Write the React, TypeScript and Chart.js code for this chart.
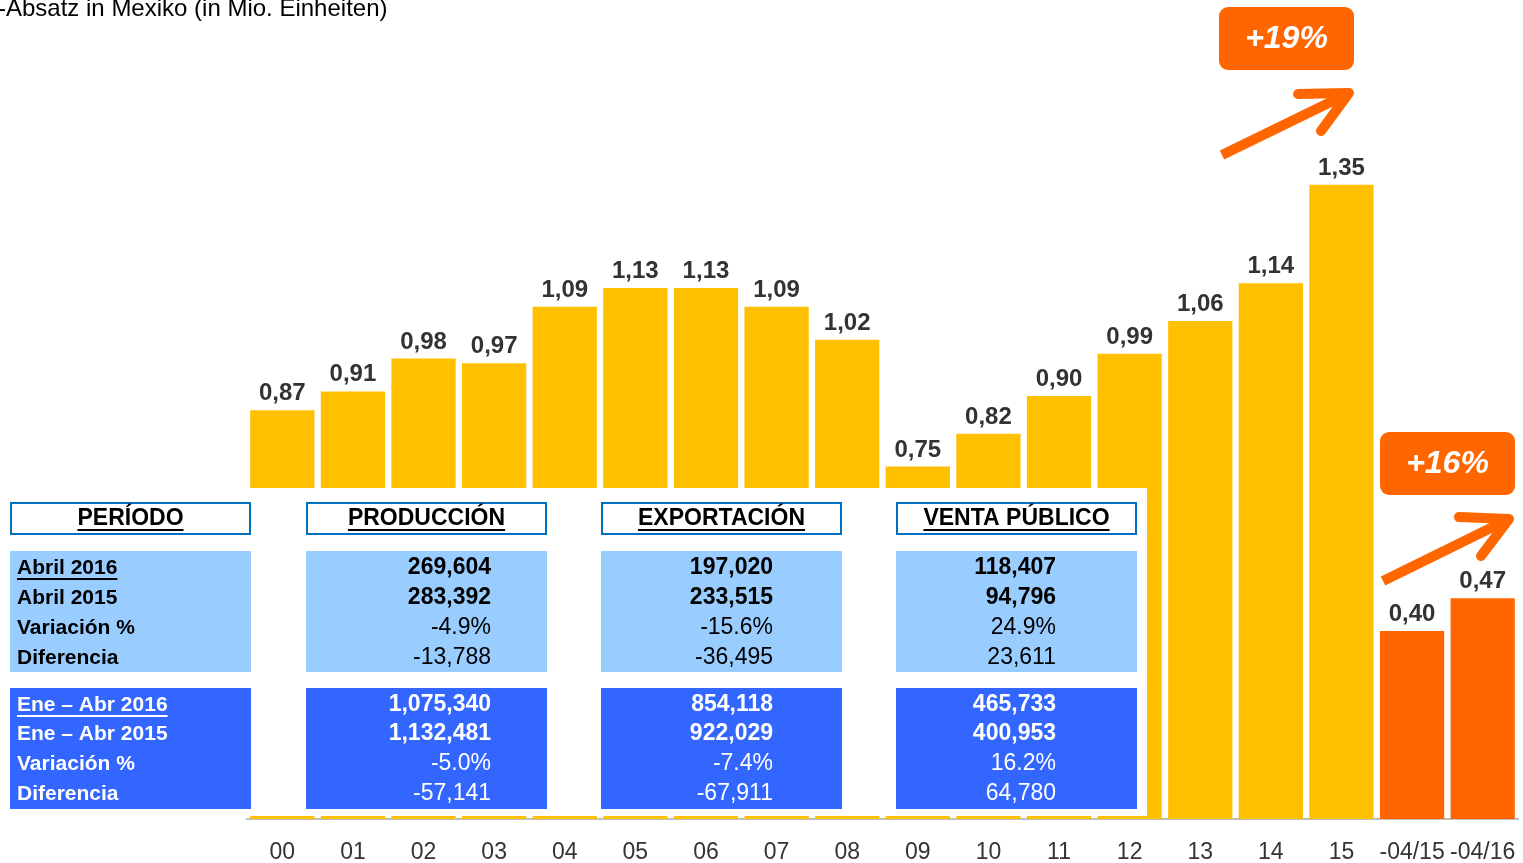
import React, { useEffect, useRef } from "react";
import { Chart, registerables } from "chart.js";

Chart.register(...registerables);

const categories = ["00", "01", "02", "03", "04", "05", "06", "07", "08", "09", "10", "11", "12", "13", "14", "15", "-04/15", "-04/16"];
const values = [0.87, 0.91, 0.98, 0.97, 1.09, 1.13, 1.13, 1.09, 1.02, 0.75, 0.82, 0.9, 0.99, 1.06, 1.14, 1.35, 0.4, 0.47];
const ytdFlags = [false, false, false, false, false, false, false, false, false, false, false, false, false, false, false, false, true, true];

const titleText = "-Absatz in Mexiko (in Mio. Einheiten)";
const badgeYear = "+19%";
const badgeYtd = "+16%";

const tableHeaders = ["PERÍODO", "PRODUCCIÓN", "EXPORTACIÓN", "VENTA PÚBLICO"];
const monthLabels = ["Abril 2016", "Abril 2015", "Variación %", "Diferencia"];
const ytdLabels = ["Ene – Abr 2016", "Ene – Abr 2015", "Variación %", "Diferencia"];
const produccionMonth = ["269,604", "283,392", "-4.9%", "-13,788"];
const exportacionMonth = ["197,020", "233,515", "-15.6%", "-36,495"];
const ventaMonth = ["118,407", "94,796", "24.9%", "23,611"];
const produccionYtd = ["1,075,340", "1,132,481", "-5.0%", "-57,141"];
const exportacionYtd = ["854,118", "922,029", "-7.4%", "-67,911"];
const ventaYtd = ["465,733", "400,953", "16.2%", "64,780"];

const YELLOW = "#FFC000";
const ORANGE = "#FF6600";
const LIGHT_BLUE = "#99CCFF";
const DARK_BLUE = "#3366FF";
const FONT = "'Liberation Sans', Arial, sans-serif";

function drawArrow(ctx: CanvasRenderingContext2D, tail: number[], tip: number[], h1: number[], h2: number[]) {
  ctx.save();
  ctx.strokeStyle = ORANGE;
  ctx.lineWidth = 10;
  ctx.lineCap = "butt";
  ctx.beginPath();
  ctx.moveTo(tail[0], tail[1]);
  ctx.lineTo(tip[0] - 6, tip[1] + 3);
  ctx.stroke();
  ctx.lineCap = "round";
  ctx.lineJoin = "round";
  ctx.beginPath();
  ctx.moveTo(h1[0], h1[1]);
  ctx.lineTo(tip[0], tip[1]);
  ctx.lineTo(h2[0], h2[1]);
  ctx.stroke();
  ctx.restore();
}

function drawBadge(ctx: CanvasRenderingContext2D, x: number, y: number, w: number, h: number, text: string) {
  ctx.save();
  ctx.fillStyle = ORANGE;
  ctx.beginPath();
  (ctx as any).roundRect(x, y, w, h, 9);
  ctx.fill();
  ctx.fillStyle = "#FFFFFF";
  ctx.font = `italic bold 32px ${FONT}`;
  ctx.textAlign = "center";
  ctx.textBaseline = "middle";
  ctx.fillText(text, x + w / 2, y + h / 2 + 1);
  ctx.restore();
}

function underlinedText(ctx: CanvasRenderingContext2D, text: string, x: number, y: number, align: CanvasTextAlign, underline: boolean, color: string) {
  ctx.textAlign = align;
  ctx.fillStyle = color;
  ctx.fillText(text, x, y);
  if (underline) {
    const w = ctx.measureText(text).width;
    const x0 = align === "center" ? x - w / 2 : align === "right" ? x - w : x;
    ctx.fillRect(x0, y + 10, w, 2);
  }
}

const overlayPlugin = {
  id: "overlay",
  afterDatasetsDraw(chart: any) {
    const ctx: CanvasRenderingContext2D = chart.ctx;
    const meta = chart.getDatasetMeta(0);
    ctx.save();
    ctx.font = `bold 24px ${FONT}`;
    ctx.fillStyle = "#333333";
    ctx.textAlign = "center";
    ctx.textBaseline = "alphabetic";
    meta.data.forEach((bar: any, i: number) => {
      ctx.fillText(values[i].toFixed(2).replace(".", ","), bar.x, bar.y - 10);
    });
    ctx.restore();
  },
  afterDraw(chart: any) {
    const ctx: CanvasRenderingContext2D = chart.ctx;
    ctx.save();
    // title
    ctx.font = `24px ${FONT}`;
    ctx.fillStyle = "#000000";
    ctx.textAlign = "left";
    ctx.textBaseline = "alphabetic";
    ctx.fillText(titleText, -2, 16);

    // table backdrop
    ctx.fillStyle = "#FFFFFF";
    ctx.fillRect(0, 488, 1147, 328);

    const colX = [10, 306, 601, 896];
    const colW = 241;
    const valRight = [0, 491, 773, 1056];

    // headers
    ctx.textBaseline = "middle";
    tableHeaders.forEach((h, c) => {
      ctx.fillStyle = "#FFFFFF";
      ctx.fillRect(colX[c], 502, colW, 33);
      ctx.strokeStyle = "#0070C0";
      ctx.lineWidth = 2;
      ctx.strokeRect(colX[c] + 1, 503, colW - 2, 31);
      ctx.font = `bold 23px ${FONT}`;
      underlinedText(ctx, h, colX[c] + colW / 2, 519, "center", true, "#000000");
    });

    // blocks
    const blocks = [
      { y: 551, color: LIGHT_BLUE, text: "#000000", labels: monthLabels, cols: [produccionMonth, exportacionMonth, ventaMonth], rows: [568, 598, 628, 658] },
      { y: 688, color: DARK_BLUE, text: "#FFFFFF", labels: ytdLabels, cols: [produccionYtd, exportacionYtd, ventaYtd], rows: [705, 734, 764, 794] },
    ];
    blocks.forEach((b) => {
      colX.forEach((x) => {
        ctx.fillStyle = b.color;
        ctx.fillRect(x, b.y, colW, 121);
      });
      b.labels.forEach((lab, r) => {
        ctx.font = `bold 21px ${FONT}`;
        underlinedText(ctx, lab, 17, b.rows[r], "left", r === 0, b.text);
      });
      b.cols.forEach((col, c) => {
        col.forEach((v, r) => {
          ctx.font = `${r < 2 ? "bold " : ""}23px ${FONT}`;
          underlinedText(ctx, v, valRight[c + 1], b.rows[r], "right", false, b.text);
        });
      });
    });

    // badges and arrows
    drawBadge(ctx, 1219, 7, 135, 63, badgeYear);
    drawArrow(ctx, [1222, 155], [1349, 93], [1298, 94], [1321, 131]);
    drawBadge(ctx, 1380, 432, 135, 63, badgeYtd);
    drawArrow(ctx, [1383, 581], [1509, 519], [1459, 517], [1481, 556]);
    ctx.restore();
  },
};

export default function App() {
  const ref = useRef<HTMLCanvasElement>(null);
  useEffect(() => {
    document.body.style.margin = "0";
    const canvas = ref.current;
    if (!canvas) return;
    const chart = new Chart(canvas, {
      type: "bar",
      data: {
        labels: categories,
        datasets: [
          {
            data: values,
            backgroundColor: ytdFlags.map((f) => (f ? ORANGE : YELLOW)),
            borderWidth: 0,
            categoryPercentage: 1,
            barPercentage: 0.91,
          },
        ],
      },
      options: {
        responsive: false,
        animation: false,
        devicePixelRatio: 1,
        layout: { padding: { left: 247, right: 5, top: 0, bottom: 0 } },
        plugins: { legend: { display: false }, tooltip: { enabled: false }, title: { display: false } },
        scales: {
          x: {
            grid: { display: false, drawTicks: false },
            border: { display: true, color: "#BFBFBF", width: 2 },
            ticks: { color: "#333333", font: { family: FONT, size: 23 }, padding: 20, maxRotation: 0, autoSkip: false },
            afterFit: (s: any) => {
              s.height = 44;
              s.paddingLeft = 0;
              s.paddingRight = 0;
            },
          },
          y: { display: false, min: 0, max: 1.743 },
        },
      },
      plugins: [overlayPlugin],
    });
    return () => chart.destroy();
  }, []);
  return <canvas ref={ref} width={1523} height={863} style={{ display: "block" }} />;
}
